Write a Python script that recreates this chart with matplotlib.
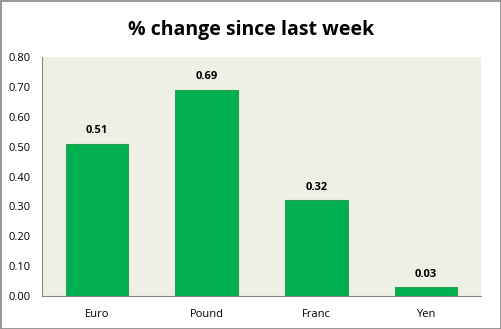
import numpy as np
import matplotlib.pyplot as plt
from matplotlib.patches import Rectangle

categories = ["Euro", "Pound", "Franc", "Yen"]
values = [0.51, 0.69, 0.32, 0.03]
yticks = [0.0, 0.1, 0.2, 0.3, 0.4, 0.5, 0.6, 0.7, 0.8]

plt.rcParams["font.family"] = ["Open Sans", "DejaVu Sans"]

fig = plt.figure(figsize=(5.02, 3.29), dpi=100)
fig.patch.set_facecolor("white")
fig.patches.append(Rectangle((0.001, 0.001), 0.997, 0.996, transform=fig.transFigure,
                             fill=False, edgecolor="#868686", linewidth=1.2))

ax = fig.add_axes([0.0837, 0.1003, 0.8745, 0.7264])
ax.set_facecolor("#EEF0E6")

x = np.arange(len(categories))
bars = ax.bar(x, values, width=0.57, color="#00B050", edgecolor="#2E9E4F", linewidth=0.8)

for xi, v in zip(x, values):
    ax.text(xi, v + 0.025, f"{v:.2f}", ha="center", va="bottom", fontsize=8, fontweight="bold")

ax.set_xlim(-0.5, len(categories) - 0.5)
ax.set_ylim(0, 0.8)
ax.set_yticks(yticks)
ax.set_yticklabels([f"{t:.2f}" for t in yticks], fontsize=8)
ax.set_xticks(x)
ax.set_xticklabels(categories, fontsize=8)
ax.tick_params(length=0, pad=8)
ax.tick_params(axis="x", pad=9)

for side in ["top", "right"]:
    ax.spines[side].set_visible(False)
for side in ["left", "bottom"]:
    ax.spines[side].set_color("#868686")
    ax.spines[side].set_linewidth(0.8)

fig.text(0.5, 0.91, "% change since last week", ha="center", va="center",
         fontsize=14, fontweight="bold")

fig.savefig("out.png", dpi=100)
